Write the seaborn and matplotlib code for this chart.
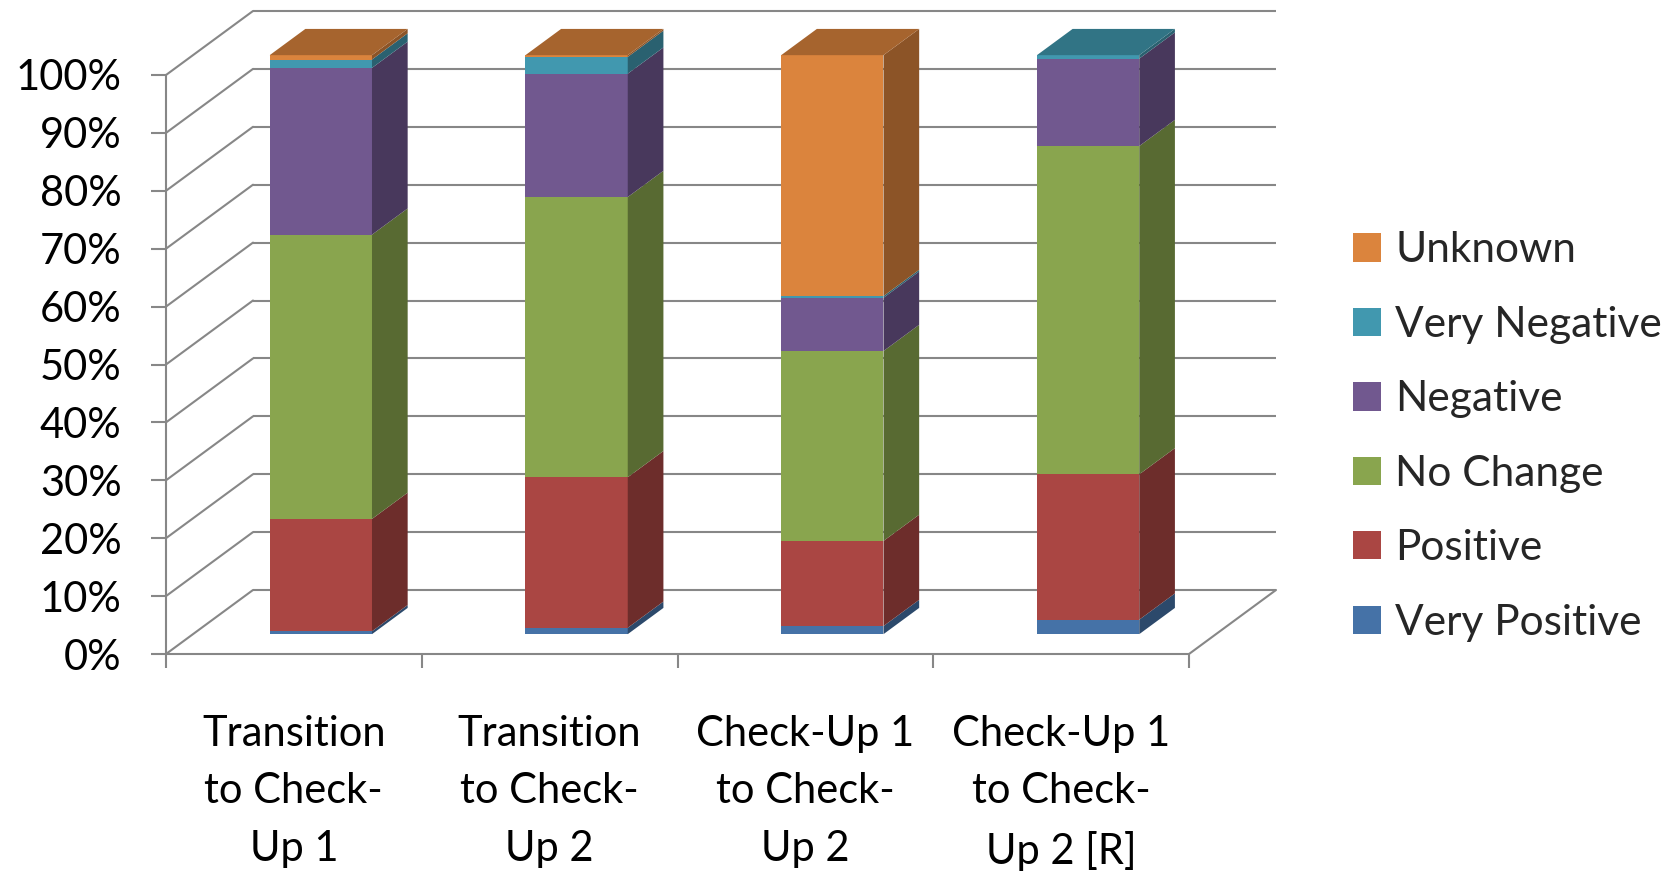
import numpy as np
import matplotlib
matplotlib.use("Agg")
import matplotlib.pyplot as plt
from matplotlib.patches import Polygon, Patch
from matplotlib.colors import to_rgb
import seaborn as sns

# ---- data (percent of each transition) ----
categories = [
    "Transition\nto Check-\nUp 1",
    "Transition\nto Check-\nUp 2",
    "Check-Up 1\nto Check-\nUp 2",
    "Check-Up 1\nto Check-\nUp 2 [R]",
]
series_names = ["Very Positive", "Positive", "No Change", "Negative", "Very Negative", "Unknown"]
very_positive = [0.5, 1.1, 1.4, 2.5]
positive = [19.4, 26.0, 14.7, 25.1]
no_change = [49.1, 48.4, 32.8, 56.7]
negative = [28.8, 21.3, 9.2, 15.1]
very_negative = [1.45, 2.9, 0.3, 0.6]
unknown = [0.75, 0.3, 41.6, 0.0]
series_values = [very_positive, positive, no_change, negative, very_negative, unknown]
series_colors = ["#4572A7", "#AA4643", "#89A54E", "#71588F", "#4198AF", "#DB843D"]
y_ticks = list(range(0, 101, 10))
y_labels = [f"{v}%" for v in y_ticks]

# ---- styling ----
sns.set_theme(style="white")
plt.rcParams["font.family"] = ["Lato", "DejaVu Sans"]
GRID = "#878787"
GRID_LW = 1.5

W_PX, H_PX = 1680, 873
fig = plt.figure(figsize=(W_PX / 100, H_PX / 100), dpi=100)

# oblique 3-D geometry (in data units: categories on x, percent on y)
PX_PER_CAT = 255.75
PX_PER_PCT = 5.79
DX = 87 / PX_PER_CAT      # full depth of the box, horizontal component
DY = 64 / PX_PER_PCT      # full depth of the box, vertical component
Z0, Z1 = 0.31, 0.72       # front / back depth of the bars
BAR_W = 0.40
n = len(categories)
xmin, xmax = -0.5, n - 0.5 + DX
ymin, ymax = 0.0, 100 + DY
left_px, front_floor_px = 166, 654
ax = fig.add_axes([
    left_px / W_PX,
    (H_PX - front_floor_px) / H_PX,
    (xmax - xmin) * PX_PER_CAT / W_PX,
    (ymax - ymin) * PX_PER_PCT / H_PX,
])

# ---- walls and floor ----
for v in y_ticks:
    # back wall
    ax.plot([xmin + DX, n - 0.5 + DX], [v + DY, v + DY], color=GRID, lw=GRID_LW,
            zorder=1, solid_capstyle="butt", clip_on=False)
    # side wall
    ax.plot([xmin, xmin + DX], [v, v + DY], color=GRID, lw=GRID_LW, zorder=1, clip_on=False)
# floor: front edge, right edge
ax.plot([xmin, n - 0.5], [0, 0], color=GRID, lw=GRID_LW, zorder=1, clip_on=False)
ax.plot([n - 0.5, n - 0.5 + DX], [0, DY], color=GRID, lw=GRID_LW, zorder=1, clip_on=False)
# vertical value axis
ax.plot([xmin, xmin], [0, 100], color=GRID, lw=GRID_LW, zorder=1, clip_on=False)


def shade(c, f):
    r, g, b = to_rgb(c)
    return (r * f, g * f, b * f)


# ---- bars ----
pos = np.arange(n, dtype=float)
bottoms = np.zeros(n)
layers = []
for name, vals, col in zip(series_names, series_values, series_colors):
    vals = np.asarray(vals, dtype=float)
    # front faces
    sns.barplot(x=pos + Z0 * DX, y=vals, bottom=bottoms + Z0 * DY, native_scale=True,
                width=BAR_W, color=col, saturation=1, linewidth=0, errorbar=None,
                orient="x", ax=ax, zorder=3)
    layers.append((bottoms.copy(), bottoms + vals, col))
    bottoms = bottoms + vals

for i in range(n):
    xr = pos[i] + BAR_W / 2
    xl = pos[i] - BAR_W / 2
    top_col = None
    top_val = 0.0
    for b_arr, t_arr, col in layers:
        b, t = b_arr[i], t_arr[i]
        if t - b <= 0:
            continue
        side = [(xr + Z0 * DX, b + Z0 * DY), (xr + Z1 * DX, b + Z1 * DY),
                (xr + Z1 * DX, t + Z1 * DY), (xr + Z0 * DX, t + Z0 * DY)]
        ax.add_patch(Polygon(side, closed=True, facecolor=shade(col, 0.64),
                             edgecolor="none", zorder=3, clip_on=False))
        top_col, top_val = col, t
    if top_col is not None:
        top = [(xl + Z0 * DX, top_val + Z0 * DY), (xr + Z0 * DX, top_val + Z0 * DY),
               (xr + Z1 * DX, top_val + Z1 * DY), (xl + Z1 * DX, top_val + Z1 * DY)]
        ax.add_patch(Polygon(top, closed=True, facecolor=shade(top_col, 0.76),
                             edgecolor="none", zorder=4, clip_on=False))

# ---- axes, ticks and labels ----
ax.set_xlim(xmin, xmax)
ax.set_ylim(ymin, ymax)
for s in ax.spines.values():
    s.set_visible(False)
ax.grid(False)

ax.set_yticks(y_ticks)
ax.set_yticklabels(y_labels)
ax.tick_params(axis="y", which="major", left=True, direction="out", length=11,
               width=GRID_LW, color=GRID, pad=21, labelsize=30, labelcolor="black")

ax.set_xticks(np.arange(n + 1) - 0.5)
ax.set_xticklabels([""] * (n + 1))
ax.set_xticks(pos, minor=True)
ax.set_xticklabels(categories, minor=True, fontsize=30, linespacing=1.62)
ax.tick_params(axis="x", which="major", bottom=True, direction="out", length=10,
               width=GRID_LW, color=GRID)
ax.tick_params(axis="x", which="minor", bottom=False, length=0, pad=44, labelcolor="black")
ax.set_xlabel("")
ax.set_ylabel("")

# ---- legend ----
handles = [Patch(facecolor=c, edgecolor="none", label=nm)
           for nm, c in zip(series_names[::-1], series_colors[::-1])]
fig.legend(handles=handles, loc="center left", bbox_to_anchor=(1353 / W_PX, 0.5),
           bbox_transform=fig.transFigure, frameon=False, fontsize=30.5,
           handlelength=0.65, handleheight=0.65, handletextpad=0.35,
           labelspacing=0.86, borderpad=0, borderaxespad=0)

fig.savefig("out.png", dpi=100, facecolor="white")
